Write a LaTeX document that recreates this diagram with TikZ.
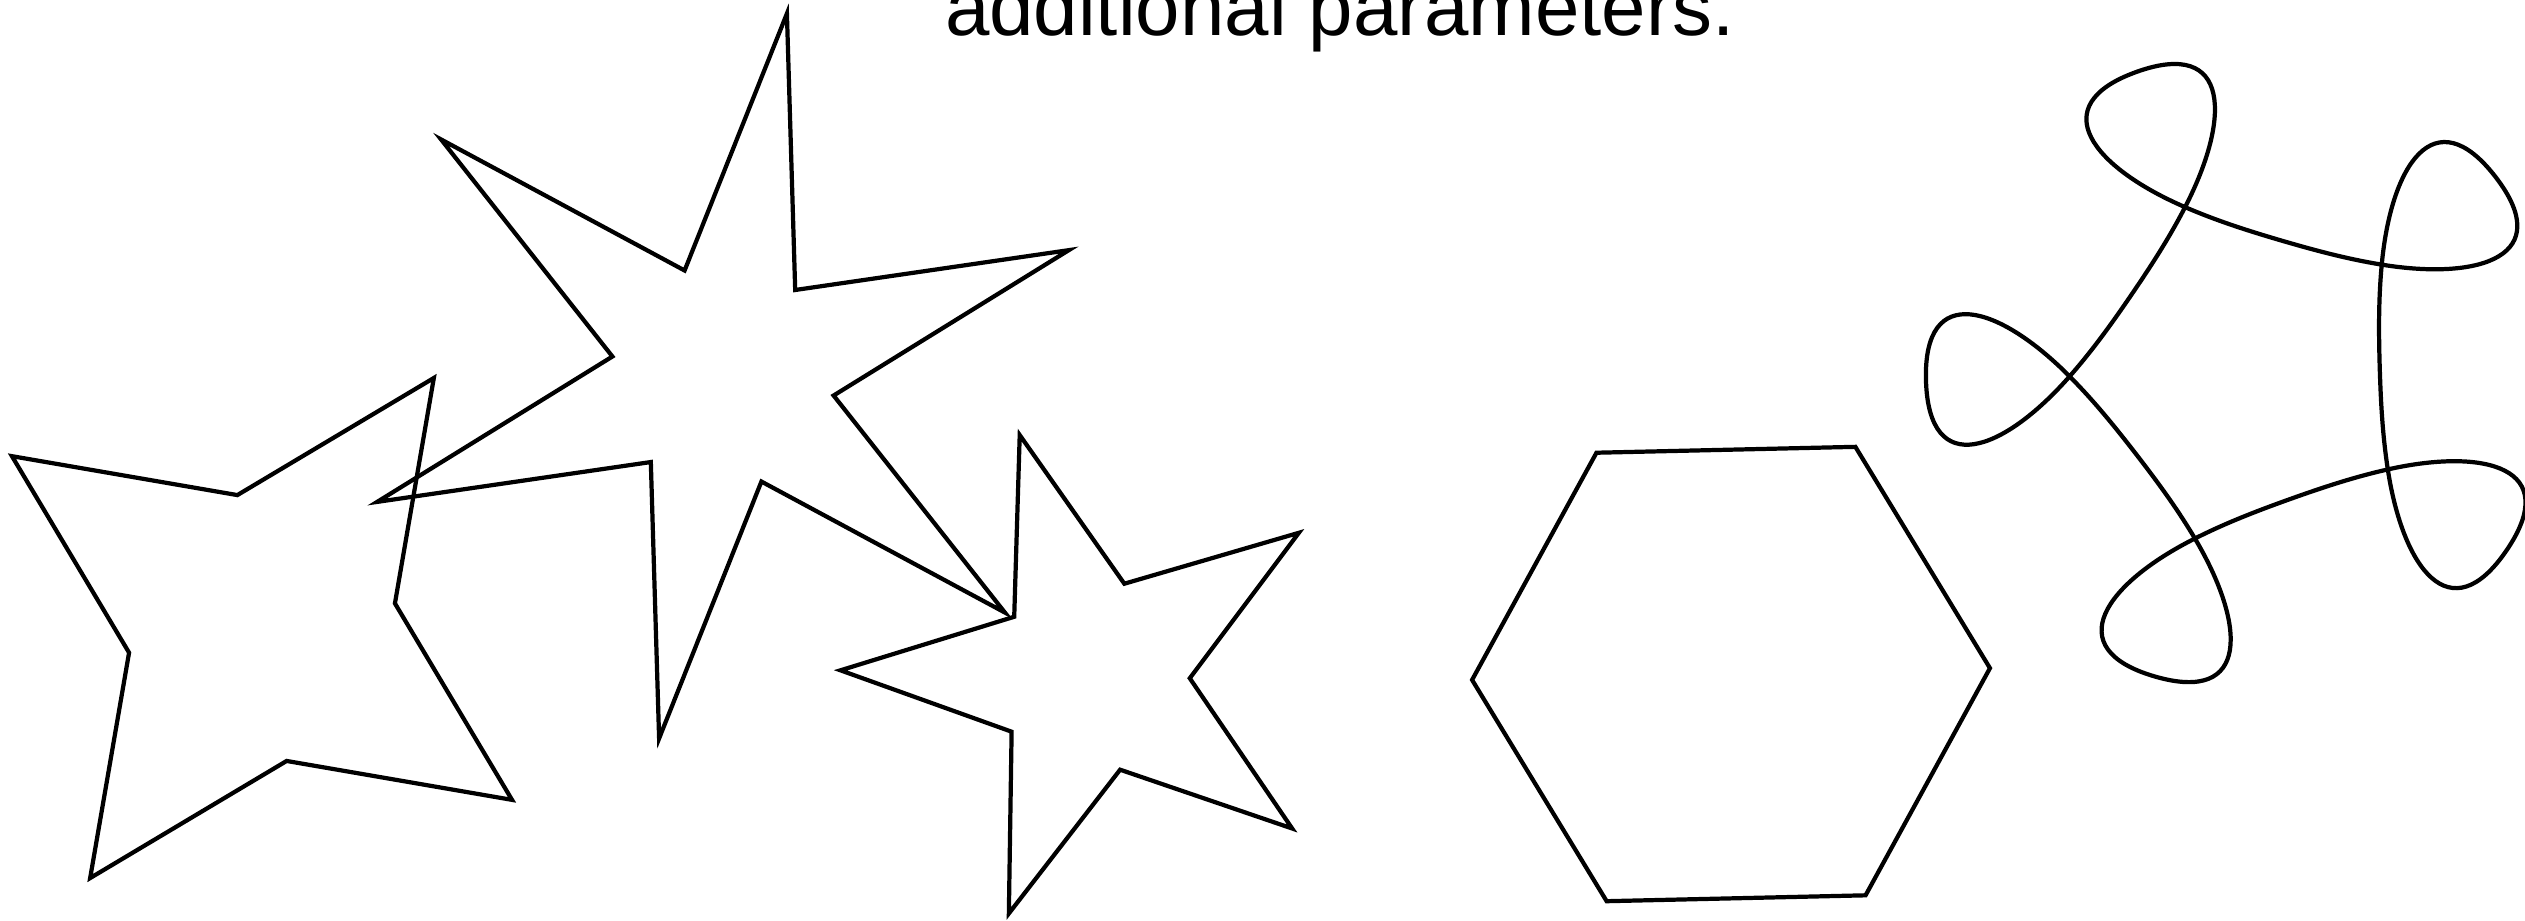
\documentclass[tikz,border=0pt]{standalone}
\usepackage{fontspec}
\setmainfont{Liberation Sans}

\begin{document}
\begin{tikzpicture}[x=0.01cm, y=-0.01cm, outline/.style={draw, line width=1.2pt}]
  \useasboundingbox (0,0) rectangle (2525,920);
  \node[anchor=base, inner sep=0pt, font=\fontsize{22.7}{27}\selectfont] (caption) at (1340,35) {additional parameters.};
  \coordinate (fourstar) at (262,628);
  \coordinate (sixstar) at (723,376);
  \coordinate (fivestar) at (1092,676);
  \coordinate (hexagon) at (1731,674);
  \coordinate (loops) at (2243.8,371.2);
  \draw[outline, shift={(fourstar)}] (-55.5:303.4) \foreach \k in {0,...,3} {-- (-55.5+90*\k:303.4) -- (-10.5+90*\k:135.2)} -- cycle;
  \draw[outline, shift={(sixstar)}] (-80:368) \foreach \k in {0,...,5} {-- (-80+60*\k:368) -- (-50+60*\k:112.3)} -- cycle;
  \draw[outline, shift={(fivestar)}] (-106.7:251.6) \foreach \k in {0,...,4} {-- (-106.7+72*\k:251.6) -- (-70.7+72*\k:97.8)} -- cycle;
  \draw[outline, shift={(hexagon)}] (-1.3:259) \foreach \k in {1,...,5} {-- (-1.3+60*\k:259)} -- cycle;
  % pentagon with a loop at each corner
  \draw[outline, shift={(loops)}] ([rotate=109.7]110.0,-79.9)
    \foreach \k in {0,...,4} {
      .. controls ([rotate={109.7-72*\k}]130.6,-51.6) and ([rotate={109.7-72*\k}]150.4,-25.6) .. ([rotate={109.7-72*\k}]174.3,0)
      .. controls ([rotate={109.7-72*\k}]242.5,73.1) and ([rotate={109.7-72*\k}]318,100) .. ([rotate={109.7-72*\k}]318,0)
      .. controls ([rotate={109.7-72*\k}]318,-100) and ([rotate={109.7-72*\k}]242.5,-73.1) .. ([rotate={109.7-72*\k}]174.3,0)
      .. controls ([rotate={109.7-72*\k}]150.4,25.6) and ([rotate={109.7-72*\k}]130.6,51.6) .. ([rotate={109.7-72*\k}]110.0,79.9)
    } -- cycle;
\end{tikzpicture}
\end{document}
